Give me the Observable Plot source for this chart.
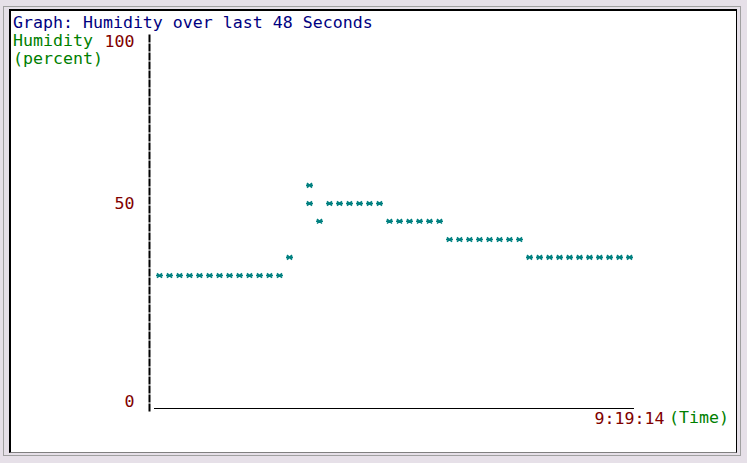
<!DOCTYPE html>
<html>
<head>
<meta charset="utf-8">
<script src="https://cdn.jsdelivr.net/npm/d3@7"></script>
<script src="https://cdn.jsdelivr.net/npm/@observablehq/plot@0.6"></script>
<style>
  html, body { margin: 0; padding: 0; width: 747px; height: 463px; overflow: hidden; background: #e6e0e8; }
  #outer { position: absolute; left: 3px; top: 6px; width: 738px; height: 450px; box-sizing: border-box;
           border: 1px solid #a0a0a0; }
  #inner { position: absolute; left: 9px; top: 9px; width: 728px; height: 444px; box-sizing: border-box;
           background: #ffffff; border-style: solid; border-color: #000 #000 #808080 #000;
           border-width: 2px 1px 1px 2px; }
  .txt { position: absolute; margin: 0; font-family: "DejaVu Sans Mono", monospace; font-size: 16.6px;
         line-height: 18px; white-space: pre; }
  #chart { position: absolute; left: 0; top: 0; }
</style>
</head>
<body>
<div id="outer"></div>
<div id="inner"></div>
<div id="chart"></div>
<pre class="txt" id="title" style="left:13px;top:14.3px;color:#000080"></pre>
<pre class="txt" id="ylabel" style="left:13px;top:32.3px;color:#008000"></pre>
<pre class="txt" id="xlabel" style="left:669px;top:409.3px;color:#008000"></pre>
<script>
// ---- data ----
const titleText = "Graph: Humidity over last 48 Seconds";
const yLabelLines = ["Humidity", "(percent)"];
const xLabelText = "(Time)";

// seconds since start of the 48-second window (one sample per second; one column doubled)
const seconds = [0, 1, 2, 3, 4, 5, 6, 7, 8, 9, 10, 11, 12, 13, 15, 15, 16,
  17, 18, 19, 20, 21, 22, 23, 24, 25, 26, 27, 28, 29, 30, 31, 32, 33, 34, 35, 36,
  37, 38, 39, 40, 41, 42, 43, 44, 45, 46, 47];
const humidity = [31.8, 31.8, 31.8, 31.8, 31.8, 31.8, 31.8, 31.8, 31.8, 31.8, 31.8, 31.8, 31.8,
  36.4, 55.6, 50.0, 45.5,
  50.0, 50.0, 50.0, 50.0, 50.0, 50.0,
  45.5, 45.5, 45.5, 45.5, 45.5, 45.5,
  40.9, 40.9, 40.9, 40.9, 40.9, 40.9, 40.9, 40.9,
  36.4, 36.4, 36.4, 36.4, 36.4, 36.4, 36.4, 36.4, 36.4, 36.4, 36.4];

const yTicks = [0, 50, 100];
const xTicks = [47];
const xTickLabels = ["9:19:14"];

document.getElementById("title").textContent = titleText;
document.getElementById("ylabel").textContent = yLabelLines.join("\n");
document.getElementById("xlabel").textContent = xLabelText;

const data = seconds.map((s, i) => ({s, h: humidity[i]}));

const asterisk = {
  draw(ctx) {
    ctx.moveTo(-3.5, 0); ctx.lineTo(3.5, 0);
    ctx.moveTo(-2.5, -2.2); ctx.lineTo(2.5, 2.2);
    ctx.moveTo(-2.5, 2.2); ctx.lineTo(2.5, -2.2);
  }
};

const font = {fontFamily: "DejaVu Sans Mono", fontSize: 16.6};

const chart = Plot.plot({
  width: 747,
  height: 463,
  marginLeft: 149,
  marginRight: 114,
  marginTop: 35,
  marginBottom: 55,
  style: {background: "transparent", fontFamily: "DejaVu Sans Mono", fontSize: "16.6px"},
  x: {type: "linear", domain: [0, 47], range: [159, 629]},
  y: {type: "linear", domain: [0, 50, 100], range: [401, 203, 41]},
  marks: [
    Plot.frame({anchor: "left", stroke: "#000", strokeWidth: 2, strokeDasharray: "6,3", insetBottom: -2}),
    Plot.frame({anchor: "bottom", stroke: "#000", strokeWidth: 1, insetLeft: 5}),
    Plot.axisY({ticks: yTicks, tickSize: 0, tickPadding: 15, color: "#800000", label: null, ...font}),
    Plot.axisX({ticks: xTicks, tickFormat: (d) => xTickLabels[xTicks.indexOf(d)], tickSize: 0, tickPadding: 4,
                color: "#800000", label: null, ...font}),
    Plot.dot(data, {x: "s", y: "h", symbol: asterisk, stroke: "#008080", strokeWidth: 1.6, fill: "none"})
  ]
});
document.getElementById("chart").appendChild(chart);
</script>
</body>
</html>
